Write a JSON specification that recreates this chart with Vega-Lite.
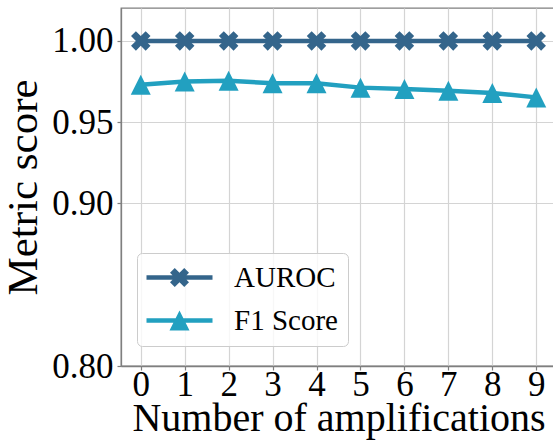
{
  "$schema": "https://vega.github.io/schema/vega-lite/v6.json",
  "autosize": {"type": "none"},
  "width": 435,
  "height": 358,
  "padding": {"left": 121, "top": 8, "right": 0, "bottom": 75},
  "background": "white",
  "config": {
    "view": {"stroke": "#7f7f7f", "strokeWidth": 1.3},
    "font": "Liberation Serif",
    "axis": {
      "labelFont": "Liberation Serif",
      "titleFont": "Liberation Serif",
      "labelFontSize": 35,
      "titleFontWeight": "normal",
      "labelColor": "black",
      "titleColor": "black",
      "domainColor": "#7f7f7f",
      "domainWidth": 1.3,
      "tickColor": "#7f7f7f",
      "tickSize": 4,
      "tickWidth": 1.2,
      "gridColor": "#d4d4d4",
      "gridWidth": 1.2,
      "gridOpacity": 1
    }
  },
  "data": {
    "values": [
      {"n": 0, "metric": "AUROC", "value": 1.0},
      {"n": 1, "metric": "AUROC", "value": 1.0},
      {"n": 2, "metric": "AUROC", "value": 1.0},
      {"n": 3, "metric": "AUROC", "value": 1.0},
      {"n": 4, "metric": "AUROC", "value": 1.0},
      {"n": 5, "metric": "AUROC", "value": 1.0},
      {"n": 6, "metric": "AUROC", "value": 1.0},
      {"n": 7, "metric": "AUROC", "value": 1.0},
      {"n": 8, "metric": "AUROC", "value": 1.0},
      {"n": 9, "metric": "AUROC", "value": 1.0},
      {"n": 0, "metric": "F1 Score", "value": 0.973},
      {"n": 1, "metric": "F1 Score", "value": 0.975},
      {"n": 2, "metric": "F1 Score", "value": 0.9756},
      {"n": 3, "metric": "F1 Score", "value": 0.974},
      {"n": 4, "metric": "F1 Score", "value": 0.974},
      {"n": 5, "metric": "F1 Score", "value": 0.9713},
      {"n": 6, "metric": "F1 Score", "value": 0.9705},
      {"n": 7, "metric": "F1 Score", "value": 0.9694},
      {"n": 8, "metric": "F1 Score", "value": 0.968},
      {"n": 9, "metric": "F1 Score", "value": 0.9653}
    ]
  },
  "encoding": {
    "x": {
      "field": "n", "type": "quantitative",
      "scale": {"domain": [-0.45, 9.45], "nice": false, "zero": false},
      "axis": {"values": [0,1,2,3,4,5,6,7,8,9], "format": "d", "title": "Number of amplifications", "titleFontSize": 40, "labelBaseline": "alphabetic", "labelPadding": 25, "titleBaseline": "alphabetic", "titleY": 64, "labelFlush": false}
    },
    "y": {
      "field": "value", "type": "quantitative",
      "scale": {"domain": [0.8, 1.0203], "nice": false, "zero": false},
      "axis": {"values": [0.8, 0.9, 0.95, 1.0], "format": ".2f", "title": "Metric score", "titleFontSize": 43, "labelPadding": 4, "titlePadding": 6, "labelFlush": false}
    },
    "color": {
      "field": "metric", "type": "nominal",
      "scale": {"domain": ["AUROC", "F1 Score"], "range": ["#34658b", "#22a0c0"]},
      "legend": {
        "title": null,
        "orient": "none",
        "legendX": 16,
        "legendY": 245,
        "padding": 10,
        "fillColor": "rgba(255,255,255,0.8)",
        "strokeColor": "#cccccc",
        "cornerRadius": 5,
        "labelFont": "Liberation Serif",
        "labelFontSize": 29,
        "labelColor": "black",
        "labelOffset": 40,
        "rowPadding": 13,
        "symbolSize": 400,
        "symbolOffset": 18,
        "symbolStrokeWidth": 0,
        "encode": {
          "symbols": {
            "update": {
              "shape": {"signal": "datum.value === 'AUROC' ? 'M-3.3,-0.22L3.3,-0.22L3.3,0.22L-3.3,0.22Z M-0.95,-0.475L-0.475,-0.95L0,-0.475L0.475,-0.95L0.95,-0.475L0.475,0L0.95,0.475L0.475,0.95L0,0.475L-0.475,0.95L-0.95,0.475L-0.475,0Z' : 'M-3.3,-0.22L3.3,-0.22L3.3,0.22L-3.3,0.22Z M0,-1L1,1L-1,1Z'"},
              "fill": {"signal": "scale('color', datum.value)"},
              "fillOpacity": {"value": 1},
              "opacity": {"value": 1},
              "strokeWidth": {"value": 0}
            }
          }
        }
      }
    }
  },
  "layer": [
    {
      "mark": {"type": "line", "strokeWidth": 4.5}
    },
    {
      "transform": [{"filter": "datum.metric === 'AUROC'"}],
      "mark": {"type": "point", "filled": true, "opacity": 1, "size": 380, "shape": "M-1,-0.5L-0.5,-1L0,-0.5L0.5,-1L1,-0.5L0.5,0L1,0.5L0.5,1L0,0.5L-0.5,1L-1,0.5L-0.5,0Z"}
    },
    {
      "transform": [{"filter": "datum.metric === 'F1 Score'"}],
      "mark": {"type": "point", "filled": true, "opacity": 1, "size": 400, "shape": "M0,-1L1,1L-1,1Z"}
    }
  ]
}
